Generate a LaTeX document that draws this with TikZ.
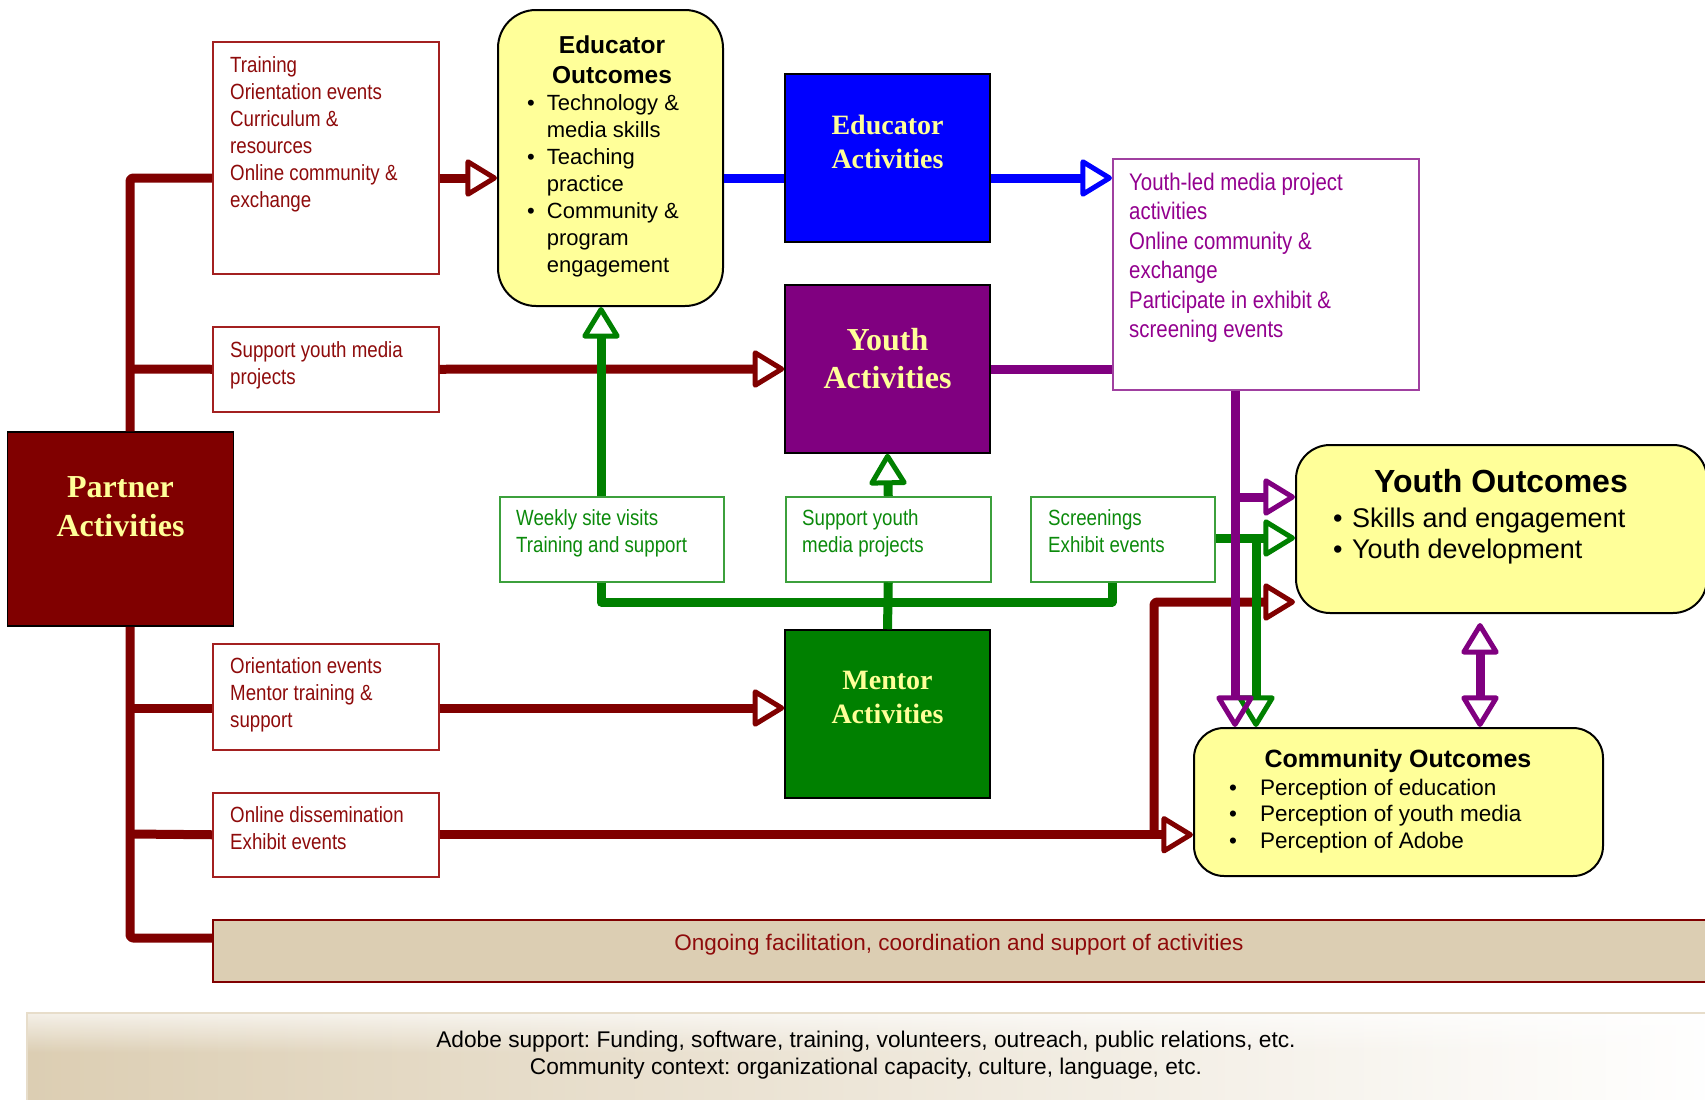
\documentclass[tikz,border=0pt]{standalone}
\usepackage{fontspec}
\setmainfont{Liberation Sans}
\newfontfamily\narrowfont[FakeStretch=0.85]{Liberation Sans}
\newfontfamily\actfont{Liberation Serif}
\usetikzlibrary{arrows.meta, fadings}

\definecolor{darkred}{HTML}{800000}
\definecolor{boxred}{HTML}{A32020}
\definecolor{txtred}{HTML}{8E0B0B}
\definecolor{eblue}{HTML}{0000FF}
\definecolor{ypurple}{HTML}{800080}
\definecolor{boxpurple}{HTML}{A040A0}
\definecolor{txtpurple}{HTML}{93008F}
\definecolor{mgreen}{HTML}{008000}
\definecolor{boxgreen}{HTML}{3CA03C}
\definecolor{txtgreen}{HTML}{0B8A0B}
\definecolor{paleyellow}{HTML}{FFFF99}
\definecolor{bartan}{HTML}{DCCEB3}

\newcommand{\setfs}[2]{\fontsize{#1}{#2}\selectfont}

\tikzset{
  link/.style={line width=9pt, line join=round},
  actbox/.style={draw=black, line width=1.5pt, minimum width=205pt, minimum height=168pt, inner sep=0pt},
  acttext/.style={text=paleyellow, align=center, inner sep=0pt},
  outbox/.style={draw=black, line width=2pt, fill=paleyellow, inner sep=0pt},
  listbox/.style={draw=#1, line width=1.5pt, fill=white, inner sep=0pt, anchor=north west},
  listtext/.style={anchor=north west, align=left, inner sep=0pt, font=\narrowfont\setfs{22}{27}},
}

\begin{document}
\begin{tikzpicture}[x=1pt, y=-1pt, >={Triangle[open, length=34pt, width=40pt, line width=5pt, round]}]
  \useasboundingbox (0,0) rectangle (1705,1100);

  % context band at the bottom
  \node[anchor=north west, minimum width=1700pt, minimum height=92pt, inner sep=0pt,
        left color=bartan, middle color=bartan!55, right color=white] (context) at (27,1013) {};
  \fill[white, path fading=south, fill opacity=0.7] (context.north west) rectangle ([yshift=-40pt]context.north east);
  \draw[bartan!70, line width=1.5pt] (context.north east) -- (context.north west) -- (context.south west);
  \node[anchor=north, align=center, inner sep=0pt, font=\frenchspacing\setfs{22.7}{27}] (contexttxt) at (866,1030.5)
       {Adobe support: Funding, software, training, volunteers, outreach, public relations, etc.\\
        Community context: organizational capacity, culture, language, etc.};

  % ongoing bar
  \node[anchor=north west, minimum width=1500pt, minimum height=62pt, inner sep=0pt, draw=darkred, line width=2pt, fill=bartan] (ongoing) at (212,919) {};
  \node[anchor=base, inner sep=0pt, font=\setfs{22.5}{27}, text=txtred] (ongoingtxt) at (959,950)
       {Ongoing facilitation, coordination and support of activities};

  % activity boxes
  \node[actbox, fill=darkred, minimum width=226pt, minimum height=194pt] (partner) at (120.5,529) {};
  \node[acttext, font=\actfont\bfseries\setfs{32}{39}] (partnertxt) at (120.5,506.5) {Partner\\Activities};
  \node[actbox, fill=eblue] (eduact) at (887.5,158) {};
  \node[acttext, font=\actfont\bfseries\setfs{28}{34}] (eduacttxt) at (887.5,142) {Educator\\Activities};
  \node[actbox, fill=ypurple] (youthact) at (887.5,369) {};
  \node[acttext, font=\actfont\bfseries\setfs{32}{38}] (youthacttxt) at (887.5,359) {Youth\\Activities};
  \node[actbox, fill=mgreen] (mentoract) at (887.5,714) {};
  \node[acttext, font=\actfont\bfseries\setfs{28}{34}] (mentoracttxt) at (887.5,697) {Mentor\\Activities};

  % partner lists
  \node[listbox=boxred, minimum width=226pt, minimum height=232pt] (train) at (212,41) {};
  \node[listtext, text=txtred] (traintxt) at (230,56) {Training\\Orientation events\\Curriculum \&\\resources\\Online community \&\\exchange};
  \node[listbox=boxred, minimum width=226pt, minimum height=85pt] (support) at (212,326) {};
  \node[listtext, text=txtred] (supporttxt) at (230,341) {Support youth media\\projects};
  \node[listbox=boxred, minimum width=226pt, minimum height=106pt] (menbox) at (212,643) {};
  \node[listtext, text=txtred] (menboxtxt) at (230,657) {Orientation events\\Mentor training \&\\support};
  \node[listbox=boxred, minimum width=226pt, minimum height=84pt] (online) at (212,792) {};
  \node[listtext, text=txtred] (onlinetxt) at (230,806) {Online dissemination\\Exhibit events};

  % mentor lists
  \node[listbox=boxgreen, minimum width=224pt, minimum height=85pt] (weekly) at (499,496) {};
  \node[listtext, text=txtgreen] (weeklytxt) at (516,509) {Weekly site visits\\Training and support};
  \node[listbox=boxgreen, minimum width=205pt, minimum height=85pt] (supgreen) at (785,496) {};
  \node[listtext, text=txtgreen] (supgreentxt) at (802,509) {Support youth\\media projects};
  \node[listbox=boxgreen, minimum width=184pt, minimum height=85pt] (screen) at (1030,496) {};
  \node[listtext, text=txtgreen] (screentxt) at (1048,509) {Screenings\\Exhibit events};

  % youth list
  \node[listbox=boxpurple, minimum width=306pt, minimum height=231pt] (youthled) at (1112,158) {};
  \node[listtext, text=txtpurple, font=\narrowfont\setfs{24}{29.5}] (youthledtxt) at (1129,172.5)
       {Youth-led media project\\activities\\Online community \&\\exchange\\Participate in exhibit \&\\screening events};

  % outcomes
  \node[outbox, rounded corners=38pt, minimum width=225pt, minimum height=296pt] (eduout) at (610.5,158) {};
  \node[anchor=north, align=center, inner sep=0pt, font=\bfseries\setfs{24.5}{30}] (eduouttitle) at (612,36) {Educator\\Outcomes};
  \node[anchor=north west, inner sep=0pt, font=\setfs{22}{27}] (eduoutlist) at (527,91)
       {\begin{tabular}{@{}l@{\hspace{12pt}}l@{}}
        \textbullet & Technology \&\\ & media skills\\
        \textbullet & Teaching\\ & practice\\
        \textbullet & Community \&\\ & program\\ & engagement
        \end{tabular}};
  \node[outbox, rounded corners=34pt, minimum width=411pt, minimum height=168pt] (yo) at (1501.5,529) {};
  \node[anchor=base, inner sep=0pt, font=\bfseries\setfs{32}{38}] (yotitle) at (1501,492) {Youth Outcomes};
  \node[anchor=north west, inner sep=0pt, font=\setfs{27}{31}] (yolist) at (1333,505.3)
       {\begin{tabular}{@{}l@{\hspace{9.5pt}}l@{}}
        \textbullet & Skills and engagement\\
        \textbullet & Youth development
        \end{tabular}};
  \node[outbox, rounded corners=30pt, minimum width=409pt, minimum height=148pt] (comm) at (1398.5,802) {};
  \node[anchor=base, inner sep=0pt, font=\bfseries\setfs{25}{30}] (commtitle) at (1398,767) {Community Outcomes};
  \node[anchor=north west, inner sep=0pt, font=\setfs{22.5}{26.5}] (commlist) at (1229,776.5)
       {\begin{tabular}{@{}l@{\hspace{23pt}}l@{}}
        \textbullet & Perception of education\\
        \textbullet & Perception of youth media\\
        \textbullet & Perception of Adobe
        \end{tabular}};

  % partner links
  \draw[link, darkred, rounded corners=3pt] (partner.north -| 130,0) |- (train.west |- 0,178);
  \draw[link, darkred, rounded corners=3pt] (partner.south -| 130,0) |- (ongoing.west |- 0,938);
  \draw[link, darkred] (130,369) -- (support.west);
  \draw[link, darkred] (130,708) -- (menbox.west |- 0,708);
  \draw[link, darkred] (130,834) -- (online.west);
  \draw[link, darkred, ->] (train.east |- 0,178) -- (eduout.west |- 0,178);
  \draw[link, darkred, ->] (support.east) -- (youthact.west);
  \draw[link, darkred, ->] (menbox.east |- 0,708) -- (mentoract.west |- 0,708);
  \draw[link, darkred, ->] (online.east) -- (comm.west |- online.east);
  \coordinate (redsplit) at (1154,834);
  \draw[link, darkred, ->, rounded corners=3pt] (redsplit) |- (yo.west |- 0,602);

  % educator links
  \draw[link, eblue] (eduout.east |- 0,178) -- (eduact.west |- 0,178);
  \draw[link, eblue, ->] (eduact.east |- 0,178) -- (youthled.west |- 0,178);

  % mentor links
  \coordinate (gbus) at (887,602);
  \draw[link, mgreen, ->] (weekly.north -| 601,0) -- (eduout.south -| 601,0);
  \draw[link, mgreen] (weekly.south -| 601,0) |- (gbus) -| (screen.south -| 1112,0);
  \draw[link, mgreen] (supgreen.south) -- (mentoract.north);
  \draw[link, mgreen, ->] (supgreen.north) -- (youthact.south);
  \draw[link, mgreen, ->] (screen.east |- 0,538) -- (yo.west |- 0,538);
  \coordinate (greensplit) at (1256,538);
  \draw[link, mgreen, ->] (greensplit) -- (comm.north -| greensplit);

  % youth links
  \draw[link, ypurple] (youthact.east) -- (youthled.west |- youthact.east);
  \coordinate (purplesplit) at (1235,497);
  \draw[link, ypurple, ->] (youthled.south -| purplesplit) -- (comm.north -| purplesplit);
  \draw[link, ypurple, ->] (purplesplit) -- (yo.west |- purplesplit);
  \draw[link, ypurple, <->, shorten <=9pt] (yo.south -| 1480,0) -- (comm.north -| 1480,0);
\end{tikzpicture}
\end{document}
